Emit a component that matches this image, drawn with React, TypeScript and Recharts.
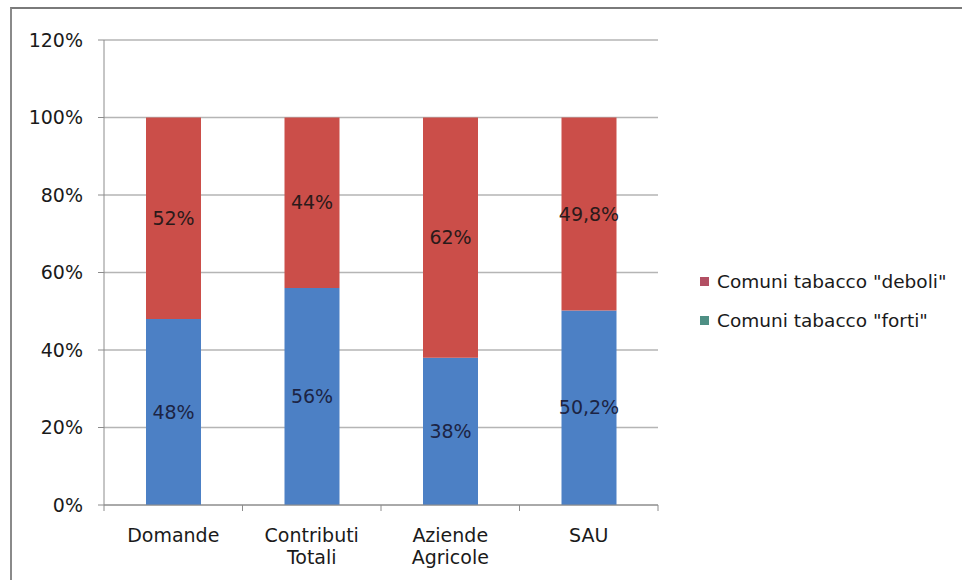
import { Bar, BarChart, CartesianGrid, LabelList, Legend, XAxis, YAxis } from 'recharts'

const categories = ['Domande', 'Contributi Totali', 'Aziende Agricole', 'SAU']
const forti = [48, 56, 38, 50.2]
const deboli = [52, 44, 62, 49.8]
const yTicks = [0, 20, 40, 60, 80, 100, 120]

const seriesNames = { forti: 'Comuni tabacco "forti"', deboli: 'Comuni tabacco "deboli"' }
const legendOrder = ['deboli', 'forti']

const data = categories.map((name, i) => ({ name, forti: forti[i], deboli: deboli[i] }))

const FONT = '"DejaVu Sans", Verdana, sans-serif'
const fmt = (v: number) => `${String(v).replace('.', ',')}%`

const CategoryTick = (props: any) => {
  const { x, y, payload } = props
  const half = payload?.offset ?? 69
  const lines = String(payload.value).split(' ')
  const isLast = payload.value === categories[categories.length - 1]
  return (
    <g>
      <line x1={x - half} x2={x - half} y1={y} y2={y + 6} stroke="#8c8c8c" />
      {isLast && <line x1={x + half} x2={x + half} y1={y} y2={y + 6} stroke="#8c8c8c" />}
      <text x={x} y={y + 37} textAnchor="middle" fill="#1a1a1a" fontSize={19} fontFamily={FONT}>
        {lines.map((l, i) => (
          <tspan key={i} x={x} dy={i === 0 ? 0 : 22}>{l}</tspan>
        ))}
      </text>
    </g>
  )
}

const LegendBox = ({ payload }: any) => {
  const items = legendOrder
    .map((k) => (payload || []).find((p: any) => p.dataKey === k))
    .filter(Boolean)
  const markers: Record<string, string> = { deboli: '#b24f63', forti: '#4e8f84' }
  return (
    <div style={{ fontFamily: FONT, fontSize: 18.5, color: '#1a1a1a' }}>
      {items.map((it: any) => (
        <div key={it.dataKey} style={{ display: 'flex', alignItems: 'center', height: 39 }}>
          <span style={{ width: 9, height: 9, background: markers[it.dataKey], marginRight: 8 }} />
          <span>{it.value}</span>
        </div>
      ))}
    </div>
  )
}

export default function App() {
  return (
    <div style={{ position: 'absolute', left: 0, top: 0, width: 962, height: 580, background: '#fff' }}>
      <div
        style={{
          position: 'absolute', left: 10, top: 7, width: 952, height: 573,
          borderTop: '2px solid #7a7a7a', borderLeft: '2px solid #8a8a8a',
        }}
      />
      <BarChart width={962} height={580} data={data} margin={{ top: 40, right: 42, bottom: 15, left: 0 }}>
        <CartesianGrid vertical={false} stroke="#b5b5b5" strokeWidth={1.5} />
        <XAxis
          dataKey="name"
          height={60}
          tickLine={false}
          tickSize={0}
          tickMargin={0}
          axisLine={{ stroke: '#8c8c8c' }}
          tick={<CategoryTick />}
          interval={0}
        />
        <YAxis
          width={104}
          domain={[0, 120]}
          ticks={yTicks}
          tickFormatter={(v: number) => `${v}%`}
          tickSize={6}
          tickMargin={15}
          tickLine={{ stroke: '#8c8c8c' }}
          axisLine={{ stroke: '#8c8c8c' }}
          tick={{ fontSize: 19, fill: '#1a1a1a', fontFamily: FONT }}
        />
        <Legend
          layout="vertical"
          align="right"
          verticalAlign="top"
          content={<LegendBox />}
          wrapperStyle={{ left: 700, top: 262, width: 262 }}
        />
        <Bar dataKey="forti" name={seriesNames.forti} stackId="a" fill="#4c80c5" barSize={55} isAnimationActive={false}>
          <LabelList dataKey="forti" position="center" formatter={fmt as any} fill="#1c2444" fontSize={19} fontFamily={FONT} />
        </Bar>
        <Bar dataKey="deboli" name={seriesNames.deboli} stackId="a" fill="#cb4e49" barSize={55} isAnimationActive={false}>
          <LabelList dataKey="deboli" position="center" formatter={fmt as any} fill="#2a1a1a" fontSize={19} fontFamily={FONT} />
        </Bar>
      </BarChart>
    </div>
  )
}
